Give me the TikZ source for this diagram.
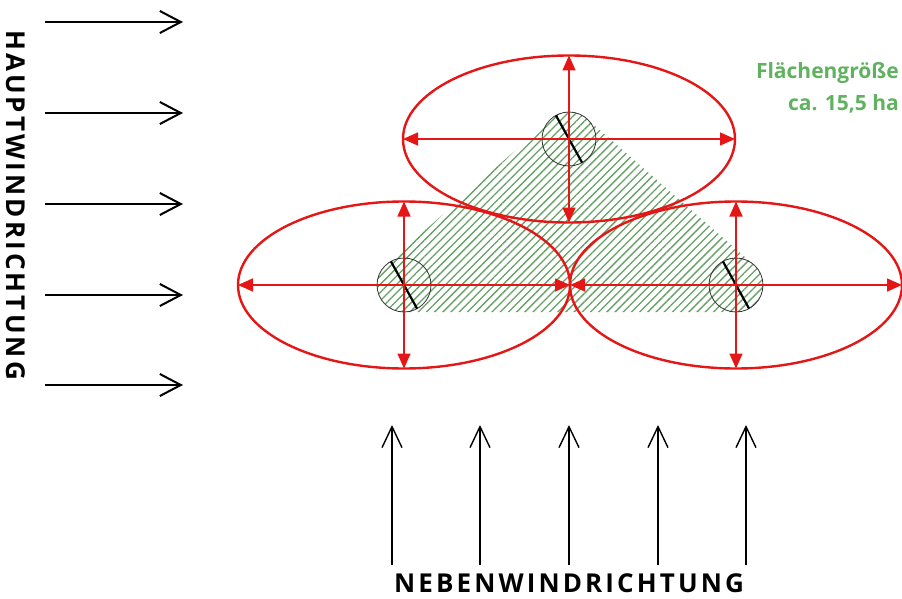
\documentclass[tikz,border=0pt]{standalone}
\usepackage{fontspec}
\setmainfont{Open Sans}
\newfontfamily\windfont[LetterSpace=12]{Open Sans}
\usetikzlibrary{arrows.meta,calc,shapes.geometric,patterns.meta}
\definecolor{zonered}{RGB}{228,22,22}
\definecolor{areagreen}{RGB}{96,178,96}
\definecolor{hatchgreen}{RGB}{100,160,100}
\tikzset{
  zone/.style={draw=zonered, ellipse, line width=2.4pt, minimum width=332pt, minimum height=167pt, inner sep=0pt, outer sep=0pt},
  span/.style={draw=zonered, line width=1.6pt, {Triangle[length=15pt,width=13pt]}-{Triangle[length=15pt,width=13pt]}},
  mast/.style={draw=black!80, circle, line width=0.8pt, minimum size=54pt, inner sep=0pt, outer sep=0pt},
  rotor/.style={line width=2.2pt, black},
  mainwind/.style={line width=2pt, -{Straight Barb[length=21pt,width=22pt]}},
  sidewind/.style={line width=1.4pt, -{Straight Barb[length=21pt,width=20pt]}},
  hatch/.style={pattern={Lines[angle=45,distance=5.8pt,line width=1.3pt]}, pattern color=hatchgreen},
  windlabel/.style={font=\windfont\bfseries\fontsize{26}{30}\selectfont, inner sep=0pt}
}

\begin{document}
\begin{tikzpicture}[x=1pt, y=1pt]
  \useasboundingbox (0,0) rectangle (902,-599);

  % turbine sites
  \coordinate (T) at (569,-139);
  \coordinate (L) at (404,-285);
  \coordinate (R) at (736,-285);

  % hatched area
  \path[hatch] ($(L)+(131.5:27)$) -- ($(T)+(131.5:27)$)
    arc[start angle=131.5, end angle=48.8, radius=27]
    -- ($(R)+(48.8:27)$) arc[start angle=48.8, end angle=-90, radius=27]
    -- ($(L)+(-90:27)$) arc[start angle=270, end angle=131.5, radius=27] -- cycle;

  % masts
  \node[mast] (tm) at (T) {};
  \node[mast] (lm) at (L) {};
  \node[mast] (rm) at (R) {};
  \draw[rotor] (tm.119) -- (tm.-61);
  \draw[rotor] (lm.119) -- (lm.-61);
  \draw[rotor] (rm.119) -- (rm.-61);

  % distance zones
  \node[zone] (tz) at (T) {};
  \node[zone] (lz) at (L) {};
  \node[zone] (rz) at (R) {};
  \draw[span] (tz.west) -- (tz.east);
  \draw[span] (tz.north) -- (tz.south);
  \draw[span] (lz.west) -- (lz.east);
  \draw[span] (lz.north) -- (lz.south);
  \draw[span] (rz.west) -- (rz.east);
  \draw[span] (rz.north) -- (rz.south);

  % wind directions
  \foreach \y [count=\i] in {22,113,204,295,385} {
    \coordinate (w\i) at (45,-\y);
    \coordinate (v\i) at (183,-\y);
    \draw[mainwind] (w\i) -- (v\i);
  }
  \foreach \x [count=\i] in {392,480,569,658,746} {
    \coordinate (s\i) at (\x,-565);
    \coordinate (e\i) at (\x,-425);
    \draw[sidewind] (s\i) -- (e\i);
  }

  \node[windlabel, rotate=-90] (mainlabel) at (16,-205) {HAUPTWINDRICHTUNG};
  \node[windlabel, anchor=base] (sidelabel) at (569,-592) {NEBENWINDRICHTUNG};
  \node[font=\bfseries\fontsize{21}{32}\selectfont, text=areagreen, align=right, anchor=north east, inner sep=0pt] (area) at (899,-62) {Flächengröße\\ca. 15,5 ha};
\end{tikzpicture}
\end{document}
